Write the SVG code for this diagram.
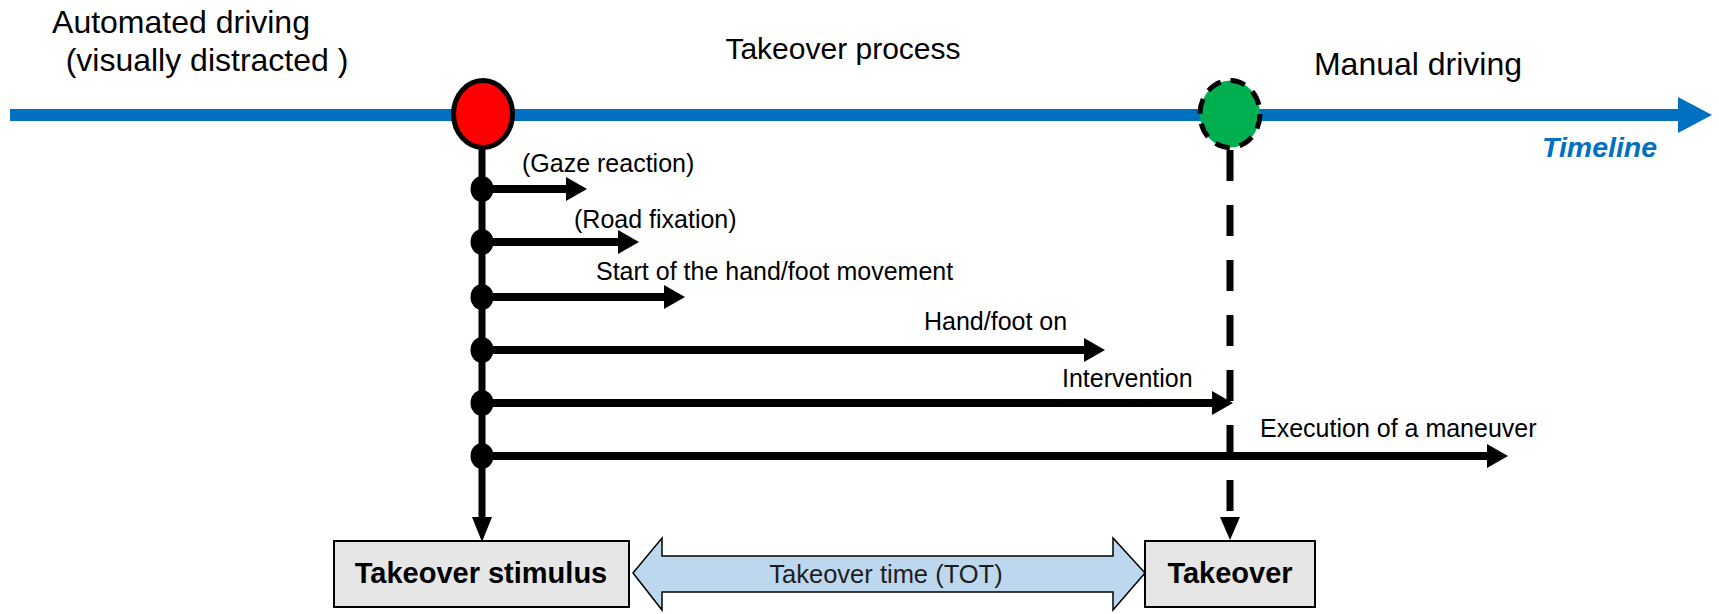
<svg xmlns="http://www.w3.org/2000/svg" width="1719" height="614" viewBox="0 0 1719 614">
  <style>
    text { font-family: "Liberation Sans", Arial, sans-serif; fill: #000; }
    .phase { font-size: 32px; }
    .step { font-size: 25px; }
    .boxlabel { font-size: 29px; font-weight: bold; text-anchor: middle; }
    .tot { font-size: 25.5px; text-anchor: middle; fill: #1e1e1e; }
    .timeline-label { font-size: 28.5px; font-weight: bold; font-style: italic; fill: #0070C0; }
    .box { fill: #E7E6E6; stroke: #000; stroke-width: 2; }
    .shaft { stroke: #000; stroke-width: 8; fill: none; }
    .head { fill: #000; }
    .dot { fill: #000; }
  </style>

  <!-- timeline axis -->
  <g id="timeline">
    <line x1="10" y1="115" x2="1682" y2="115" stroke="#0070C0" stroke-width="12"/>
    <polygon points="1678,97 1712,115 1678,133" fill="#0070C0"/>
    <text class="timeline-label" x="1542" y="157">Timeline</text>
  </g>

  <!-- phase labels -->
  <g id="phase-automated">
    <text class="phase" x="181" y="33" text-anchor="middle">Automated driving</text>
    <text class="phase" x="207" y="71" text-anchor="middle">(visually distracted )</text>
  </g>
  <g id="phase-takeover">
    <text class="phase" x="843" y="59" text-anchor="middle" style="font-size:30px">Takeover process</text>
  </g>
  <g id="phase-manual">
    <text class="phase" x="1418" y="75" text-anchor="middle">Manual driving</text>
  </g>

  <!-- connectors: stimulus stem, step arrows, dashed takeover stem -->
  <g id="connectors">
    <line x1="482" y1="146" x2="482" y2="519" stroke="#000" stroke-width="7"/>
    <polygon class="head" points="472,517 492,517 482,542"/>

    <line class="shaft" x1="482" y1="189" x2="568" y2="189"/>
    <polygon class="head" points="566,177 587,189 566,201"/>

    <line class="shaft" x1="482" y1="242" x2="620" y2="242"/>
    <polygon class="head" points="618,230 639,242 618,254"/>

    <line class="shaft" x1="482" y1="297" x2="666" y2="297"/>
    <polygon class="head" points="664,285 685,297 664,309"/>

    <line class="shaft" x1="482" y1="350" x2="1086" y2="350"/>
    <polygon class="head" points="1084,338 1105,350 1084,362"/>

    <line class="shaft" x1="482" y1="403" x2="1214" y2="403"/>
    <polygon class="head" points="1212,391 1233,403 1212,415"/>

    <line class="shaft" x1="482" y1="456" x2="1489" y2="456"/>
    <polygon class="head" points="1487,444 1508,456 1487,468"/>

    <line x1="1230" y1="150" x2="1230" y2="519" stroke="#000" stroke-width="7" stroke-dasharray="31 24"/>
    <polygon class="head" points="1220,517 1240,517 1230,540"/>

    <!-- takeover time span -->
    <polygon points="633,573 662,538 662,556 1113,556 1113,538 1145,573 1113,610 1113,592 662,592 662,610" fill="#BDD7EE" stroke="#000" stroke-width="1.5" stroke-linejoin="miter"/>
    <text class="tot" x="886" y="583">Takeover time (TOT)</text>
  </g>

  <!-- step markers on the stimulus stem -->
  <g id="step-markers">
    <ellipse class="dot" cx="482" cy="189" rx="11.5" ry="13"/>
    <ellipse class="dot" cx="482" cy="242" rx="11.5" ry="13"/>
    <ellipse class="dot" cx="482" cy="297" rx="11.5" ry="13"/>
    <ellipse class="dot" cx="482" cy="350" rx="11.5" ry="13"/>
    <ellipse class="dot" cx="482" cy="403" rx="11.5" ry="13"/>
    <ellipse class="dot" cx="482" cy="456" rx="11.5" ry="13"/>
  </g>

  <!-- step labels -->
  <g id="step-gaze"><text class="step" x="522" y="172">(Gaze reaction)</text></g>
  <g id="step-road"><text class="step" x="574" y="228">(Road fixation)</text></g>
  <g id="step-start"><text class="step" x="596" y="280">Start of the hand/foot movement</text></g>
  <g id="step-handfoot"><text class="step" x="924" y="330">Hand/foot on</text></g>
  <g id="step-intervention"><text class="step" x="1062" y="387">Intervention</text></g>
  <g id="step-execution"><text class="step" x="1260" y="437">Execution of a maneuver</text></g>

  <!-- events on the timeline -->
  <g id="event-stimulus">
    <ellipse cx="483" cy="114" rx="29.5" ry="33.5" fill="#FF0000" stroke="#000" stroke-width="5"/>
  </g>
  <g id="event-takeover">
    <ellipse cx="1230" cy="114" rx="30" ry="33.5" fill="#00B050" stroke="#000" stroke-width="5" stroke-dasharray="15 10"/>
  </g>

  <!-- result boxes -->
  <g id="box-stimulus">
    <rect class="box" x="334" y="541" width="295" height="66"/>
    <text class="boxlabel" x="481" y="583">Takeover stimulus</text>
  </g>
  <g id="box-takeover">
    <rect class="box" x="1145" y="541" width="170" height="66"/>
    <text class="boxlabel" x="1230" y="583">Takeover</text>
  </g>
</svg>
